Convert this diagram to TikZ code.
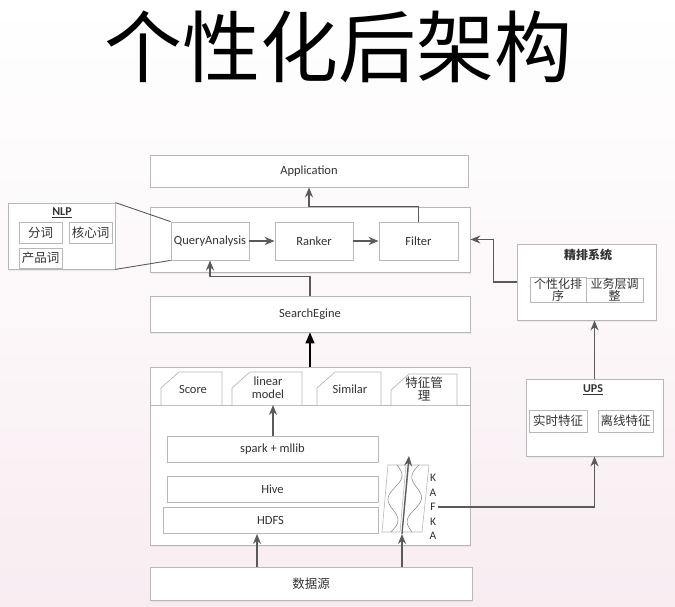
\documentclass[tikz,border=0pt]{standalone}
\usepackage{fontspec}
\setmainfont{Carlito}
\newfontfamily\cjk{Noto Sans CJK SC}
\usetikzlibrary{arrows.meta,shadows}

\definecolor{boxline}{HTML}{B8B8B8}
\definecolor{arrline}{HTML}{5A5A5A}
\definecolor{bgpink}{HTML}{F8ECF1}
\definecolor{txt}{HTML}{333333}

\tikzset{
  box/.style={draw=boxline, fill=white, line width=0.8pt, inner sep=1pt, text=txt,
    font=\fontsize{12.5}{14}\selectfont, drop shadow={opacity=0.12, shadow xshift=1pt, shadow yshift=-1.5pt}},
  flatbox/.style={draw=boxline, fill=white, line width=0.8pt, inner sep=1pt, text=txt,
    font=\fontsize{12.5}{14}\selectfont},
  subbox/.style={draw=boxline, fill=white, line width=0.6pt, inner sep=1pt, text=txt,
    font=\cjk\fontsize{12.5}{13}\selectfont},
  tabline/.style={draw=boxline, fill=white, line width=0.7pt},
  tabtext/.style={text=txt, align=center, inner sep=1pt, font=\fontsize{12.5}{13}\selectfont},
  titlelab/.style={text=txt, font=\bfseries\fontsize{12}{13}\selectfont},
  arr/.style={draw=arrline, line width=1.3pt, -{Stealth[length=10pt,width=8pt]}},
  bigarr/.style={draw=black, line width=1.5pt, -{Triangle[length=11pt,width=9pt]}},
}

\begin{document}
\begin{tikzpicture}[x=1pt,y=-1pt]
  \useasboundingbox (0,0) rectangle (675,607);
  \shade[top color=white, bottom color=bgpink, middle color=white!60!bgpink] (0,0) rectangle (675,607);

  \node[text=black, font=\cjk\fontsize{78}{78}\selectfont] (title) at (338,47) {个性化后架构};

  % top layer
  \node[box, minimum width=318, minimum height=32] (app) at (309,171) {Application};
  \node[box, minimum width=320, minimum height=65] (mid) at (310,239.5) {};
  \node[flatbox, minimum width=78, minimum height=38] (qa) at (210,241) {QueryAnalysis};
  \node[flatbox, minimum width=78, minimum height=38] (rank) at (314,241) {Ranker};
  \node[flatbox, minimum width=79, minimum height=38] (filt) at (418.5,241) {Filter};

  % NLP
  \node[box, minimum width=107, minimum height=66] (nlp) at (61.5,236) {};
  \node[titlelab] (nlpt) at (62,213) {\underline{NLP}};
  \node[subbox, minimum width=43, minimum height=21] (fenci) at (40.5,232.5) {分词};
  \node[subbox, minimum width=43, minimum height=21] (hexin) at (90.5,232.5) {核心词};
  \node[subbox, minimum width=43, minimum height=20] (chanpin) at (40.5,258) {产品词};
  \draw[arrline, line width=0.9pt] (nlp.north east) -- (qa.north west);
  \draw[arrline, line width=0.9pt] (nlp.south east) -- (qa.south west);

  \node[box, minimum width=320, minimum height=36] (se) at (310,314) {SearchEgine};

  % bottom layer
  \node[box, minimum width=320, minimum height=178] (bot) at (310,456) {};
  \draw[boxline, line width=0.8pt] (bot.west |- 0,405) -- (bot.east |- 0,405);
  \foreach \a/\b/\t in {161/222/372, 232/302/372, 317/381/372, 391/457/374}
    \draw[tabline] (\a,405) -- (\a,\t+16) -- (\a+18,\t) -- (\b,\t) -- (\b,405);
  \node[tabtext] (score) at (193,389) {Score};
  \node[tabtext] (lin) at (268,388) {linear\\model};
  \node[tabtext, font=\cjk\fontsize{12.5}{13}\selectfont] (tzgl) at (424,389) {特征管\\理};
  \node[tabtext] (sim) at (350,389) {Similar};
  \coordinate (linb) at (273,405);
  \node[flatbox, minimum width=211, minimum height=26] (spark) at (272.5,449) {spark + mllib};
  \node[flatbox, minimum width=211, minimum height=26] (hive) at (272.5,489) {Hive};
  \node[flatbox, minimum width=215, minimum height=26] (hdfs) at (270.5,520) {HDFS};

  % kafka
  \draw[boxline, line width=0.6pt] (382,532) -- (400,532) -- (406,465) -- (388,465) -- cycle;
  \draw[boxline, line width=0.6pt] (402,532) -- (422,532) -- (429,465) -- (409,465) -- cycle;
  \draw[gray, line width=0.5pt] plot[domain=0:1, samples=40] ({397-6*\x+6*sin(540*\x)}, {465+67*\x});
  \draw[gray, line width=0.5pt] plot[domain=0:1, samples=40] ({419-7*\x-6*sin(540*\x)}, {465+67*\x});
  \node[text=txt, align=center, font=\fontsize{11.5}{14.5}\selectfont, inner sep=1pt] (kafka) at (433,507) {K\\A\\F\\K\\A};
  \coordinate (kb) at (402,534);
  \coordinate (kt) at (409,456);
  \coordinate (h1) at (257,534);

  \node[box, minimum width=322, minimum height=33] (data) at (311,583.5) {\cjk 数据源};

  % right side
  \node[box, minimum width=139, minimum height=76] (jp) at (586.5,282) {};
  \node[titlelab, font=\cjk\bfseries\fontsize{12}{13}\selectfont] (jpt) at (588,255) {精排系统};
  \node[subbox, align=center, font=\cjk\fontsize{12}{11.5}\selectfont, minimum width=56, minimum height=20] (gx) at (558,290) {个性化排\\序};
  \node[subbox, align=center, font=\cjk\fontsize{12}{11.5}\selectfont, minimum width=57, minimum height=20] (yw) at (614.5,290) {业务层调\\整};

  \node[box, minimum width=137, minimum height=77] (ups) at (594.5,417.5) {};
  \node[titlelab] (upst) at (593,390) {\underline{UPS}};
  \node[subbox, minimum width=58, minimum height=22] (ss) at (558,421) {实时特征};
  \node[subbox, minimum width=55, minimum height=22] (lx) at (625.5,421) {离线特征};

  % connectors
  \draw[arr] (qa) -- (rank);
  \draw[arr] (rank) -- (filt);
  \draw[arr] (filt.north) -- (filt.north |- mid.north) -| (app.south);
  \draw[arr] (se.north) -- ++(0,-19) -| (qa.south);
  \draw[bigarr] (bot.north) -- (se.south);
  \draw[arr] (spark.north -| linb) -- (linb);
  \draw[arr] (data.north -| h1) -- (h1);
  \draw[arr] (data.north -| kb) -- (kb);
  \draw[arr] (kb) -- (kt);
  \draw[arr] (kafka.east) -- (ups.south |- kafka.east) -- (ups.south);
  \draw[arr] (ups.north) -- (ups.north |- jp.south);
  \draw[arr] (jp.west) -- ++(-23,0) |- (mid.east);
\end{tikzpicture}
\end{document}
